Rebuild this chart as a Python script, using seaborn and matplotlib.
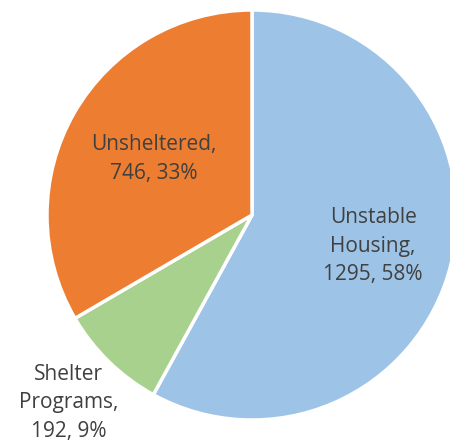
import numpy as np
import matplotlib
matplotlib.use("Agg")
import matplotlib.pyplot as plt
import seaborn as sns

# data
categories = ["Unstable\nHousing", "Shelter\nPrograms", "Unsheltered"]
counts = [1295, 192, 746]
percents = [58, 9, 33]
label_dist = [0.61, 1.28, 0.55]

colors = sns.color_palette(["#9DC3E6", "#A9D18E", "#ED7D31"])

sns.set_theme(style="white")
plt.rcParams['font.family'] = ['Open Sans', 'DejaVu Sans']

fig = plt.figure(figsize=(4.5, 4.41), dpi=100)
# pie centre ~ (252, 215) px, radius ~205 px
ax = fig.add_axes([47 / 450, 21 / 441, 410 / 450, 410 / 441])

wedges, _ = ax.pie(counts, colors=colors, startangle=90, counterclock=False,
                   wedgeprops=dict(edgecolor="white", linewidth=2.5))

for w, cat, n, p, d in zip(wedges, categories, counts, percents, label_dist):
    ang = np.deg2rad((w.theta1 + w.theta2) / 2)
    ax.text(d * np.cos(ang), d * np.sin(ang), f"{cat},\n{n}, {p}%",
            ha="center", va="center", fontsize=15, color="#404040",
            linespacing=1.47)

ax.set_xlim(-1, 1)
ax.set_ylim(-1, 1)
ax.set_aspect("equal")
ax.axis("off")

fig.savefig("out.png", dpi=100)
